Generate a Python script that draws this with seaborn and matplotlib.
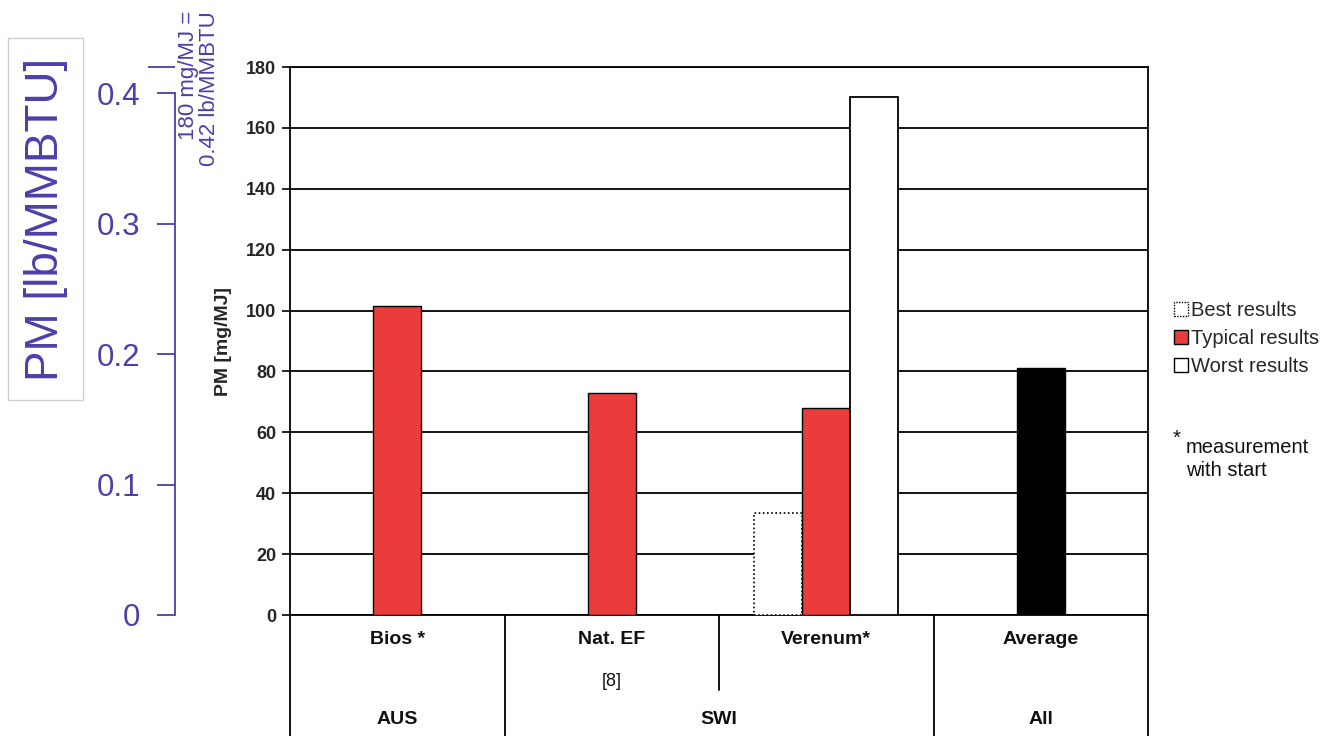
import matplotlib
matplotlib.use("Agg")
import matplotlib.pyplot as plt
import matplotlib.transforms as mtransforms
from matplotlib.patches import Patch, Rectangle
import seaborn as sns
import pandas as pd

# ---- data ----
categories = ["Bios *", "Nat. EF", "Verenum*", "Average"]
sublabels = ["", "[8]", "", ""]
countries = ["AUS", "SWI", "All"]
result_types = ["Best results", "Typical results", "Worst results"]
best_values = [None, None, 33.5, None]
typical_values = [101.5, 72.8, 68.0, 81.0]
worst_values = [None, None, 170.0, None]
y_ticks_mg = [0, 20, 40, 60, 80, 100, 120, 140, 160, 180]
y_ticks_lb = [0, 0.1, 0.2, 0.3, 0.4]

rows = []
for series, vals in zip(result_types, [best_values, typical_values, worst_values]):
    for c, v in zip(categories, vals):
        if v is not None:
            rows.append({"category": c, "result": series, "value": v})
df = pd.DataFrame(rows)

sns.set_theme(style="white")
plt.rcParams["font.family"] = ["Liberation Sans", "DejaVu Sans"]

W, H = 1327, 736
fig = plt.figure(figsize=(W / 100, H / 100), dpi=100)

def fx(px):
    return px / W

def fy(py):
    return 1 - py / H

ax_l, ax_r, ax_t, ax_b = 290, 1148, 67, 615
ax = fig.add_axes([fx(ax_l), fy(ax_b), fx(ax_r - ax_l), (ax_b - ax_t) / H])

RED = "#EB3C3C"
sns.barplot(data=df, x="category", y="value", hue="result", order=categories,
            hue_order=result_types, width=0.672, dodge=True, gap=0,
            errorbar=None, legend=False, ax=ax,
            palette={"Best results": "white", "Typical results": RED,
                     "Worst results": "white"}, saturation=1)

for cont, rtype in zip(ax.containers, result_types):
    for bar in cont:
        bar.set_zorder(3)
        if rtype == "Best results":
            bar.set_facecolor("white")
            bar.set_edgecolor("black")
            bar.set_linestyle((0, (1, 1.5)))
            bar.set_linewidth(1.2)
        elif rtype == "Typical results":
            cx = bar.get_x() + bar.get_width() / 2
            if abs(cx - 3) < 0.01:
                bar.set_facecolor("black")
            else:
                bar.set_facecolor(RED)
            bar.set_edgecolor("black")
            bar.set_linewidth(1.0)
        else:
            bar.set_facecolor("white")
            bar.set_edgecolor("black")
            bar.set_linewidth(1.3)

ax.set_xlim(-0.5, 3.5)
ax.set_ylim(0, 180)
ax.set_yticks(y_ticks_mg)
ax.set_yticklabels([str(t) for t in y_ticks_mg], fontsize=13, fontweight="bold")
ax.set_xticks([])
ax.set_xlabel("")
ax.set_ylabel("PM [mg/MJ]", fontsize=14, fontweight="bold", labelpad=10)
ax.set_axisbelow(True)
ax.yaxis.grid(True, color="black", linewidth=1.3)
ax.tick_params(axis="y", direction="out", length=6, width=1.2, color="black",
               left=True, pad=4)
for s in ["left", "right", "top", "bottom"]:
    ax.spines[s].set_visible(True)
    ax.spines[s].set_color("black")
    ax.spines[s].set_linewidth(1.3)
ax.set_facecolor("white")

# ---- table below ----
trans = mtransforms.blended_transform_factory(ax.transData, ax.transAxes)
bot = -(H - ax_b) / (ax_b - ax_t)
for xb, ylow in [(-0.5, bot), (0.5, bot), (1.5, -(690 - ax_b) / (ax_b - ax_t)),
                 (2.5, bot), (3.5, bot)]:
    ax.plot([xb, xb], [0, ylow], color="black", lw=1.3, transform=trans,
            clip_on=False)

def ay(py):
    return -(py - ax_b) / (ax_b - ax_t)

for i, (c, s) in enumerate(zip(categories, sublabels)):
    ax.text(i, ay(640), c, transform=trans, ha="center", va="center",
            fontsize=14, fontweight="bold", color="#111111")
    if s:
        ax.text(i, ay(681), s, transform=trans, ha="center", va="center",
                fontsize=13, color="#111111")
for xpos, lab in zip([0, 1.5, 3], countries):
    ax.text(xpos, ay(719), lab, transform=trans, ha="center", va="center",
            fontsize=14, fontweight="bold", color="#111111")

# ---- legend ----
handles = [
    Patch(facecolor="white", edgecolor="black", linestyle=(0, (1, 1)), linewidth=1),
    Patch(facecolor=RED, edgecolor="black", linewidth=1),
    Patch(facecolor="white", edgecolor="black", linewidth=1),
]
leg = fig.legend(handles, result_types, loc="upper left",
                 bbox_to_anchor=(fx(1174), fy(301)), frameon=False,
                 fontsize=14.5, handlelength=0.7, handleheight=0.7,
                 handletextpad=0.15, labelspacing=0.45, borderaxespad=0,
                 borderpad=0)
fig.text(fx(1173), fy(438), "*", fontsize=14.5, ha="left", va="center",
         color="#111111")
fig.text(fx(1186), fy(459), "measurement\nwith start", fontsize=14.5,
         ha="left", va="center", color="#111111", linespacing=1.25)

# ---- secondary lb/MMBTU axis ----
BLUE = "#4A40A8"
ax2 = fig.add_axes([fx(175), fy(ax_b), 0.0005, (ax_b - ax_t) / H])
ax2.set_ylim(0, 0.42)
ax2.set_xticks([])
ax2.set_yticks(y_ticks_lb)
ax2.set_yticklabels(["0", "0.1", "0.2", "0.3", "0.4"], fontsize=22.5, color=BLUE)
ax2.set_yticks([0.42], minor=True)
ax2.tick_params(axis="y", which="major", direction="out", length=13, width=1.3,
                color=BLUE, left=True, pad=12)
ax2.tick_params(axis="y", which="minor", direction="out", length=19.5, width=1.3,
                color=BLUE, left=True)
for s in ["right", "top", "bottom"]:
    ax2.spines[s].set_visible(False)
ax2.spines["left"].set_color(BLUE)
ax2.spines["left"].set_linewidth(1.3)
ax2.spines["left"].set_bounds(0, 0.4)
ax2.patch.set_alpha(0)

fig.text(fx(199), fy(11), "180 mg/MJ =\n0.42 lb/MMBTU", rotation=90,
         ha="center", va="top", multialignment="right", fontsize=16,
         color=BLUE, linespacing=1.0)

# boxed big label
fig.patches.append(Rectangle((fx(8), fy(400)), fx(75), (400 - 38) / H,
                             transform=fig.transFigure, facecolor="white",
                             edgecolor="#CFCFCF", linewidth=1.0, zorder=0))
fig.text(fx(46), fy(219), "PM [lb/MMBTU]", rotation=90, ha="center",
         va="center", fontsize=33, color=BLUE)

fig.savefig("out.png", dpi=100, facecolor="white")
